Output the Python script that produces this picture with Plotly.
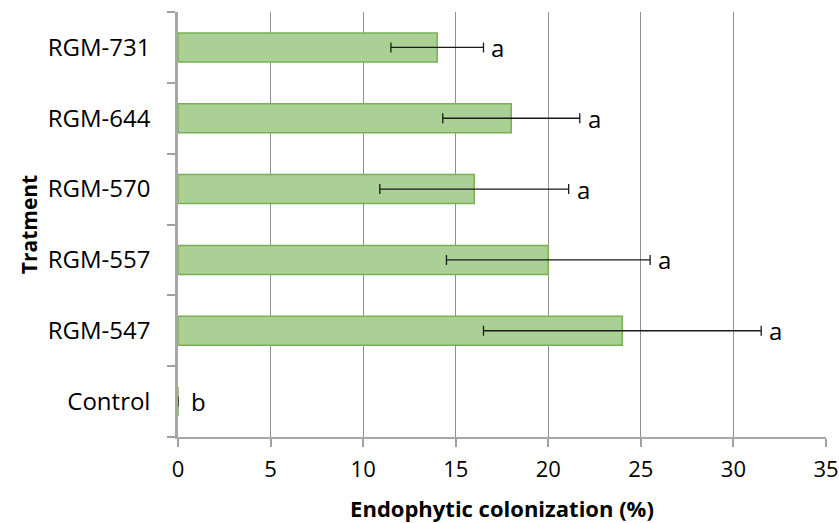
import plotly.graph_objects as go

categories = ["Control", "RGM-547", "RGM-557", "RGM-570", "RGM-644", "RGM-731"]
colonization = [0, 24, 20, 16, 18, 14]
std_err = [0, 7.5, 5.5, 5.1, 3.7, 2.5]
letters = ["b", "a", "a", "a", "a", "a"]
x_ticks = [0, 5, 10, 15, 20, 25, 30, 35]

FONT = "Open Sans"

fig = go.Figure()
fig.add_trace(go.Bar(
    y=categories, x=colonization, orientation="h",
    marker=dict(color="#abd096", line=dict(color="#78b153", width=1.5)),
    error_x=dict(type="data", array=std_err, visible=True,
                 color="#1a1a1a", thickness=1.3, width=5),
    showlegend=False,
))

for cat, v, e, lab in zip(categories, colonization, std_err, letters):
    fig.add_annotation(x=v + e, y=cat, text=lab, showarrow=False,
                       xanchor="left", xshift=6 if v else 11,
                       font=dict(family=FONT, size=24, color="#000"))

fig.update_layout(
    width=839, height=523,
    margin=dict(l=178, r=13, t=12, b=86),
    paper_bgcolor="white", plot_bgcolor="white",
    bargap=0.59,
    font=dict(family=FONT, color="#000"),
)
fig.update_xaxes(
    range=[0, 35], tickvals=x_ticks, ticks="outside", ticklen=8,
    tickcolor="#a0a0a0", tickwidth=1.5,
    showline=True, linecolor="#a6a6a6", linewidth=2,
    showgrid=True, gridcolor="#8f8f8f", gridwidth=1.2, zeroline=False,
    tickfont=dict(family=FONT, size=22, color="#000"), ticklabelstandoff=4,
    title=dict(text="<b>Endophytic colonization (%)</b>",
               font=dict(family=FONT, size=22, color="#000"), standoff=20),
    automargin=False,
)
fig.update_yaxes(
    type="category", categoryorder="array", categoryarray=categories,
    tickson="boundaries", ticks="outside", ticklen=8,
    tickcolor="#a0a0a0", tickwidth=1.5,
    showline=True, linecolor="#a6a6a6", linewidth=2.5,
    showgrid=False, zeroline=False,
    tickfont=dict(family=FONT, size=24, color="#000"), ticklabelstandoff=20,
    title=dict(text="<b>Tratment</b>",
               font=dict(family=FONT, size=21, color="#000"), standoff=5),
    automargin=False,
)
fig.write_html("out.html")
